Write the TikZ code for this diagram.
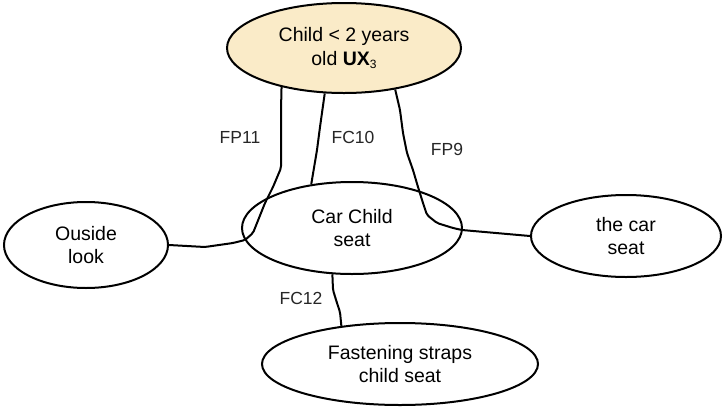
\documentclass[tikz,border=0pt]{standalone}
\usepackage{fontspec}
\setmainfont{Liberation Sans}
\usetikzlibrary{shapes.geometric}
\definecolor{topfill}{HTML}{FAEBC8}
\begin{document}
\begin{tikzpicture}[x=1pt,y=-1pt,
  bubble/.style={ellipse,draw=black,line width=2pt,inner sep=0pt,align=center,
    font=\fontsize{19.5}{23.5}\selectfont},
  wire/.style={draw=black,line width=2pt,rounded corners=2pt,line join=round},
  tag/.style={font=\fontsize{17.5}{20}\selectfont,text=black!85}]
\useasboundingbox (0,0) rectangle (724,408);

% concept bubbles
\node[bubble,fill=topfill,minimum width=234pt,minimum height=90pt] (child) at (344,48)
  {Child < 2 years\\old \textbf{UX}\raisebox{-0.3ex}{\fontsize{12}{12}\selectfont 3}};
\node[bubble,minimum width=220pt,minimum height=92pt] (seat) at (352,228) {Car Child\\seat};
\node[bubble,minimum width=164pt,minimum height=86pt] (look) at (86,245) {Ouside\\look};
\node[bubble,minimum width=190pt,minimum height=82pt] (carseat) at (626,236) {the car\\seat};
\node[bubble,fill=white,minimum width=276pt,minimum height=82pt] (straps) at (400,364)
  {Fastening straps\\child seat};

% hand-drawn links
\draw[wire] (child.212) -- (281,110) -- (281,168) -- (273,187) -- (265,203) -- (257,223)
  -- (253,233) -- (245,240) -- (233,243) -- (205,247) -- (look.east);
\draw[wire] (child.247) -- (320,127) -- (317,150) -- (seat.133);
\draw[wire] (child.321.5) -- (400,110) -- (403,133) -- (407,153) -- (413,170) -- (418,187)
  -- (423,203) -- (427,215) -- (437,223) -- (453,228) -- (462,230) -- (carseat.west);
\draw[wire] (seat.247) -- (333,290) -- (337,303) -- (340,312) -- (straps.147);

% link labels
\node[tag] (fp11) at (240,137) {FP11};
\node[tag] (fc10) at (353,137) {FC10};
\node[tag] (fp9) at (447,149) {FP9};
\node[tag] (fc12) at (301,298) {FC12};
\end{tikzpicture}
\end{document}
